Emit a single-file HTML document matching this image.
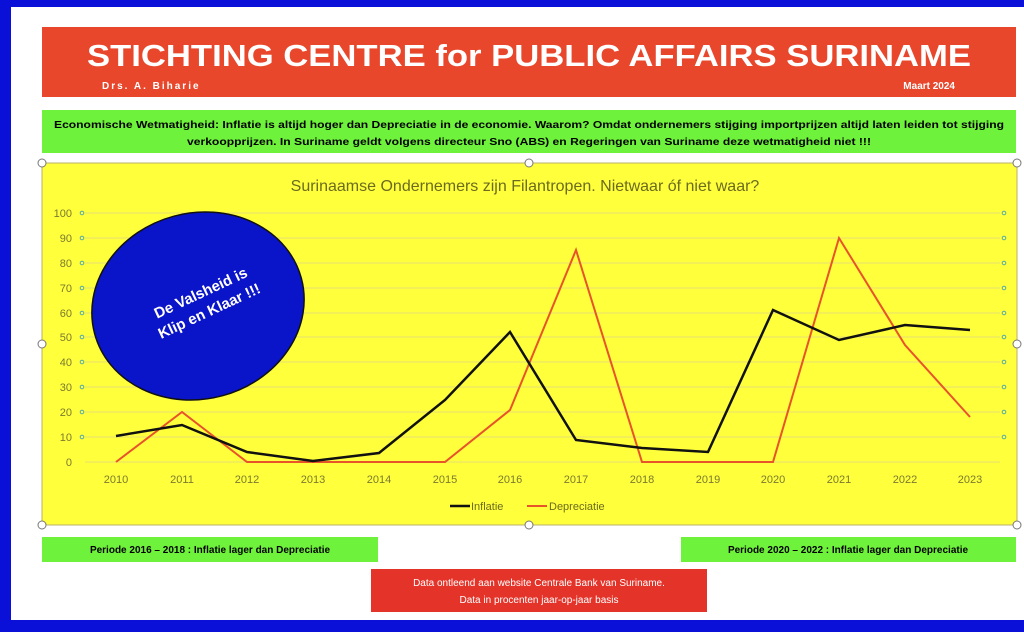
<!DOCTYPE html>
<html><head><meta charset="utf-8"><style>
html,body{margin:0;padding:0;background:#fff;}
svg{display:block;}
</style></head><body>
<svg width="1024" height="635" xmlns="http://www.w3.org/2000/svg" font-family="Liberation Sans, sans-serif">
<rect x="0" y="0" width="1024" height="635" fill="#fff"/>
<path d="M0 0H1024V7H11V620H1024V632H0Z" fill="#0a10d8"/>
<rect x="11" y="7" width="1013" height="613" fill="#fff"/>
<!-- header -->
<rect x="42" y="27" width="974" height="70" fill="#e8472c"/>
<text x="529" y="66" text-anchor="middle" fill="#fff" font-size="31" font-weight="bold" textLength="884" lengthAdjust="spacingAndGlyphs">STICHTING CENTRE for PUBLIC AFFAIRS SURINAME</text>
<text x="102" y="89" fill="#fff" font-size="10" font-weight="bold" letter-spacing="2">Drs. A. Biharie</text>
<text x="955" y="89" text-anchor="end" fill="#fff" font-size="10" font-weight="bold">Maart 2024</text>
<!-- green banner -->
<rect x="42" y="110" width="974" height="43" fill="#6ef23c"/>
<text x="529" y="128" text-anchor="middle" font-size="10" font-weight="bold" textLength="950" lengthAdjust="spacingAndGlyphs">Economische Wetmatigheid: Inflatie is altijd hoger dan Depreciatie in de economie. Waarom? Omdat ondernemers stijging importprijzen altijd laten leiden tot stijging</text>
<text x="529" y="145" text-anchor="middle" font-size="10" font-weight="bold" textLength="684" lengthAdjust="spacingAndGlyphs">verkoopprijzen.     In Suriname geldt volgens directeur Sno (ABS)  en Regeringen van Suriname deze wetmatigheid niet  !!!</text>
<!-- chart -->
<rect x="42" y="163" width="975" height="362" fill="#ffff3c" stroke="#b8b070" stroke-width="1"/>
<g fill="#fff" stroke="#777" stroke-width="1">
<circle cx="42" cy="163" r="4"/><circle cx="529" cy="163" r="4"/><circle cx="1017" cy="163" r="4"/>
<circle cx="42" cy="344" r="4"/><circle cx="1017" cy="344" r="4"/>
<circle cx="42" cy="525" r="4"/><circle cx="529" cy="525" r="4"/><circle cx="1017" cy="525" r="4"/>
</g>
<text x="525" y="191" text-anchor="middle" font-size="16" fill="#6b6b20">Surinaamse Ondernemers zijn Filantropen.   Nietwaar óf niet waar?</text>
<g stroke="#e6e070" stroke-width="1">
<line x1="85" x2="1000" y1="213" y2="213"/><line x1="85" x2="1000" y1="238" y2="238"/><line x1="85" x2="1000" y1="263" y2="263"/><line x1="85" x2="1000" y1="288" y2="288"/><line x1="85" x2="1000" y1="313" y2="313"/><line x1="85" x2="1000" y1="337" y2="337"/><line x1="85" x2="1000" y1="362" y2="362"/><line x1="85" x2="1000" y1="387" y2="387"/><line x1="85" x2="1000" y1="412" y2="412"/><line x1="85" x2="1000" y1="437" y2="437"/><line x1="85" x2="1000" y1="462" y2="462"/>
</g>
<g font-size="11" fill="#7a7a30" text-anchor="end">
<text x="72" y="217">100</text><text x="72" y="242">90</text><text x="72" y="267">80</text><text x="72" y="292">70</text><text x="72" y="317">60</text><text x="72" y="341">50</text><text x="72" y="366">40</text><text x="72" y="391">30</text><text x="72" y="416">20</text><text x="72" y="441">10</text><text x="72" y="466">0</text>
</g>
<g fill="none" stroke="#5aa" stroke-width="1">
<circle cx="82" cy="213" r="1.8"/><circle cx="82" cy="238" r="1.8"/><circle cx="82" cy="263" r="1.8"/><circle cx="82" cy="288" r="1.8"/><circle cx="82" cy="313" r="1.8"/><circle cx="82" cy="337" r="1.8"/><circle cx="82" cy="362" r="1.8"/><circle cx="82" cy="387" r="1.8"/><circle cx="82" cy="412" r="1.8"/><circle cx="82" cy="437" r="1.8"/>
<circle cx="1004" cy="213" r="1.8"/><circle cx="1004" cy="238" r="1.8"/><circle cx="1004" cy="263" r="1.8"/><circle cx="1004" cy="288" r="1.8"/><circle cx="1004" cy="313" r="1.8"/><circle cx="1004" cy="337" r="1.8"/><circle cx="1004" cy="362" r="1.8"/><circle cx="1004" cy="387" r="1.8"/><circle cx="1004" cy="412" r="1.8"/><circle cx="1004" cy="437" r="1.8"/>
</g>
<g font-size="11" fill="#7a7a30" text-anchor="middle">
<text x="116" y="483">2010</text><text x="182" y="483">2011</text><text x="247" y="483">2012</text><text x="313" y="483">2013</text><text x="379" y="483">2014</text><text x="445" y="483">2015</text><text x="510" y="483">2016</text><text x="576" y="483">2017</text><text x="642" y="483">2018</text><text x="708" y="483">2019</text><text x="773" y="483">2020</text><text x="839" y="483">2021</text><text x="905" y="483">2022</text><text x="970" y="483">2023</text>
</g>
<polyline fill="none" stroke="#e8532a" stroke-width="2" points="116,462 182,412 247,462 313,462 379,462 445,462 510,410 576,250 642,462 708,462 773,462 839,238 905,345 970,417"/>
<polyline fill="none" stroke="#111" stroke-width="2.5" points="116,436 182,425 247,452 313,461 379,453 445,400 510,332 576,440 642,448 708,452 773,310 839,340 905,325 970,330"/>
<line x1="450" x2="470" y1="506" y2="506" stroke="#111" stroke-width="2.5"/>
<text x="471" y="510" font-size="11" fill="#6b6b20">Inflatie</text>
<line x1="527" x2="547" y1="506" y2="506" stroke="#e8532a" stroke-width="2"/>
<text x="549" y="510" font-size="11" fill="#6b6b20">Depreciatie</text>
<!-- ellipse -->
<ellipse cx="198" cy="306" rx="107" ry="93" transform="rotate(-15 198 306)" fill="#0a14c8" stroke="#111" stroke-width="1.5"/>
<g transform="rotate(-25 205 302)" fill="#fff" font-size="15" font-weight="bold" text-anchor="middle">
<text x="205" y="297">De Valsheid is</text>
<text x="205" y="317">Klip en Klaar !!!</text>
</g>
<!-- bottom boxes -->
<rect x="42" y="537" width="336" height="25" fill="#6ef23c"/>
<text x="210" y="553" text-anchor="middle" font-size="10" font-weight="bold">Periode 2016 – 2018 : Inflatie lager dan Depreciatie</text>
<rect x="681" y="537" width="335" height="25" fill="#6ef23c"/>
<text x="848" y="553" text-anchor="middle" font-size="10" font-weight="bold">Periode 2020 – 2022 : Inflatie lager dan Depreciatie</text>
<rect x="371" y="569" width="336" height="43" fill="#e4342a"/>
<text x="539" y="586" text-anchor="middle" font-size="10" fill="#fff">Data ontleend aan website Centrale Bank van Suriname.</text>
<text x="539" y="603" text-anchor="middle" font-size="10" fill="#fff">Data in procenten jaar-op-jaar basis</text>
</svg>
</body></html>
